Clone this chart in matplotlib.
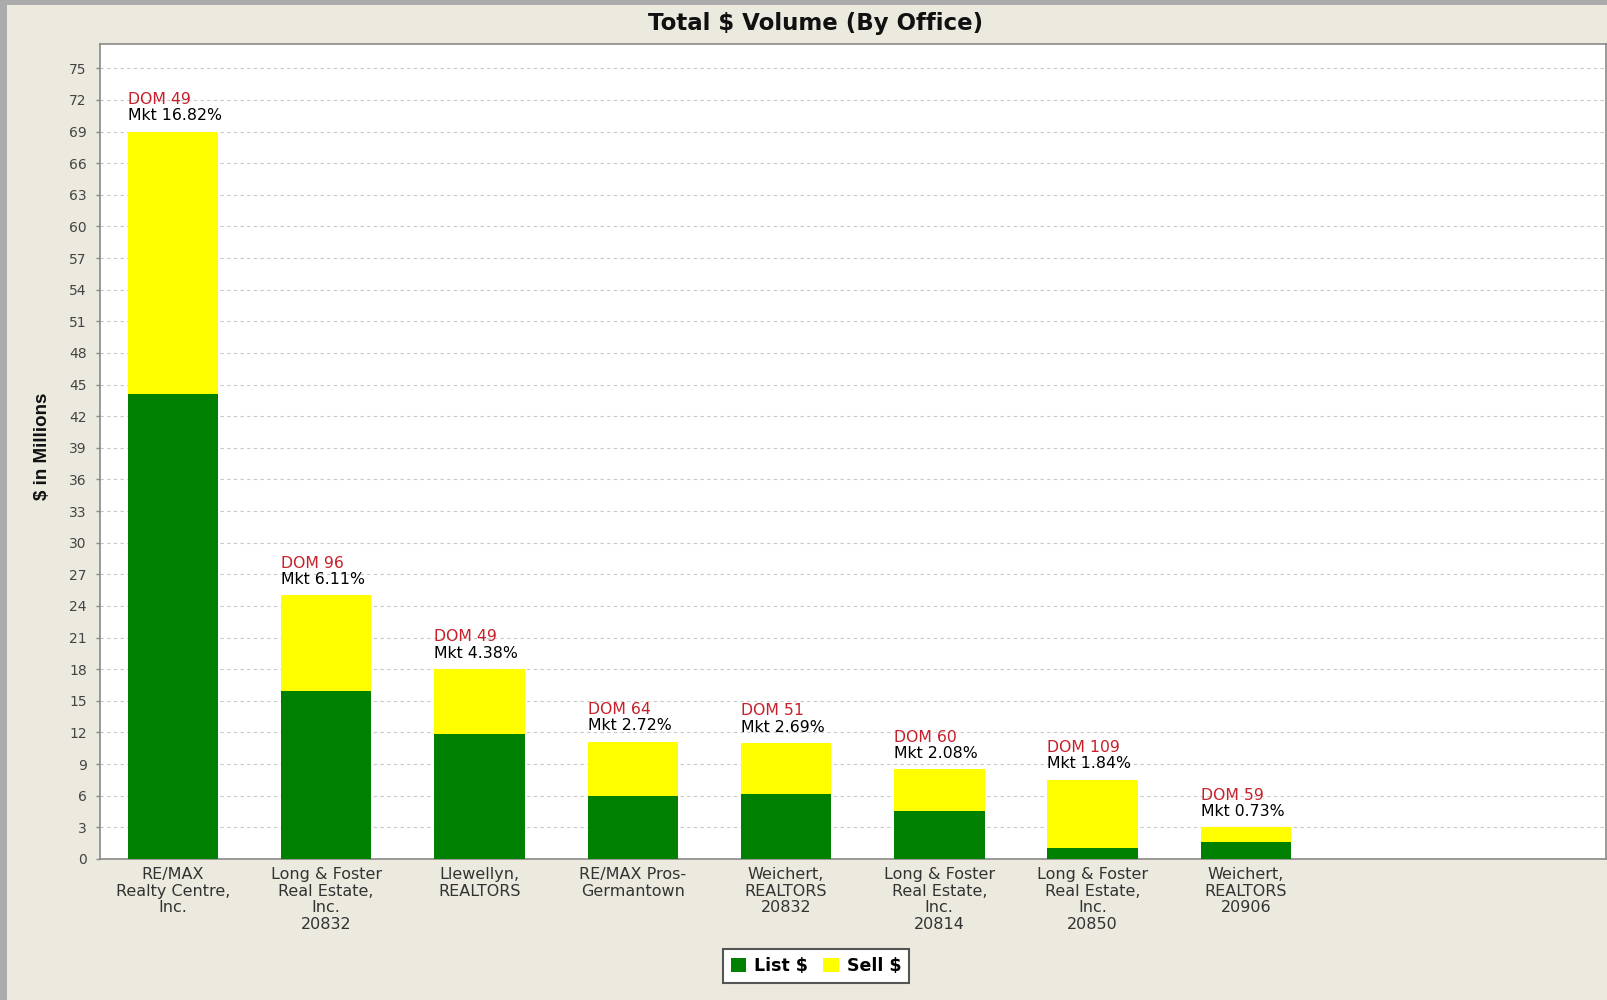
import matplotlib
matplotlib.use("Agg")
import matplotlib.pyplot as plt
from matplotlib.patches import Rectangle
import numpy as np

plt.rcParams['font.family'] = ['DejaVu Sans']

# data ($ millions)
offices = ["RE/MAX\nRealty Centre,\nInc.",
           "Long & Foster\nReal Estate,\nInc.\n20832",
           "Llewellyn,\nREALTORS",
           "RE/MAX Pros-\nGermantown",
           "Weichert,\nREALTORS\n20832",
           "Long & Foster\nReal Estate,\nInc.\n20814",
           "Long & Foster\nReal Estate,\nInc.\n20850",
           "Weichert,\nREALTORS\n20906"]
list_vals = [44.1, 15.9, 11.9, 6.0, 6.2, 4.55, 1.0, 1.6]
sell_vals = [24.9, 9.1, 6.1, 5.1, 4.8, 3.95, 6.5, 1.4]
dom = [49, 96, 49, 64, 51, 60, 109, 59]
mkt = ["16.82", "6.11", "4.38", "2.72", "2.69", "2.08", "1.84", "0.73"]

W, H = 1608, 1000
fig = plt.figure(figsize=(W / 100, H / 100), dpi=100)
fig.patch.set_facecolor('#ABABAB')
fig.patches.append(Rectangle((7 / W, 0), 1, 1 - 5 / H, transform=fig.transFigure,
                             facecolor='#ECE9DF', edgecolor='none', zorder=-10))

ax = fig.add_axes([100 / W, 1 - 859 / H, 1506 / W, (859 - 44) / H])
ax.set_facecolor('white')

x = np.arange(len(offices))
bw = 0.59
ax.bar(x, list_vals, bw, color='#008000', label='List $', zorder=3)
ax.bar(x, sell_vals, bw, bottom=list_vals, color='#FFFF00', label='Sell $', zorder=3)

# DOM / Mkt labels above each bar
for i in range(len(offices)):
    top = list_vals[i] + sell_vals[i]
    ax.annotate("DOM {}".format(dom[i]), (x[i] - bw / 2, top), xytext=(0, 23.2),
                textcoords='offset points', ha='left', va='center', fontsize=11.3,
                color='#C8202A', zorder=4)
    ax.annotate("Mkt {}%".format(mkt[i]), (x[i] - bw / 2, top), xytext=(0, 11.5),
                textcoords='offset points', ha='left', va='center', fontsize=11.3,
                color='black', zorder=4)

ax.set_xlim(-0.476, 9.35)
ax.set_ylim(0, 77.3)
ax.set_yticks(np.arange(0, 76, 3))
ax.set_xticks(x)
ax.set_xticklabels(offices, fontsize=11.5, color='#333333', linespacing=1.12)
ax.tick_params(axis='x', length=0, pad=6)
ax.tick_params(axis='y', length=3, width=1, color='#888888', labelsize=10,
               labelcolor='#444444', pad=6.5)

ax.grid(axis='y', color='#C8C8C8', linestyle=(0, (3, 3)), linewidth=0.8, zorder=0)
for s in ax.spines.values():
    s.set_color('#8A8A8A')
    s.set_linewidth(1.2)

fig.text(816 / W, 1 - 23.5 / H, "Total $ Volume (By Office)", ha='center', va='center',
         fontsize=16.5, fontweight='bold', color='#111111')
fig.text(43 / W, 1 - 446 / H, "$ in Millions", rotation=90, ha='center', va='center',
         fontsize=13.5, fontweight='bold', color='#111111', family='Liberation Sans')

leg = fig.legend(loc='center', bbox_to_anchor=(816 / W, 1 - 966 / H), ncol=2,
                 frameon=True, fancybox=False, edgecolor='#555555', facecolor='white',
                 prop={'weight': 'bold', 'size': 12.5}, handlelength=0.9,
                 handleheight=0.9, handletextpad=0.45, columnspacing=0.9,
                 borderpad=0.45, framealpha=1)
leg.get_frame().set_linewidth(1.5)

fig.savefig("out.png", dpi=100, facecolor=fig.get_facecolor())
